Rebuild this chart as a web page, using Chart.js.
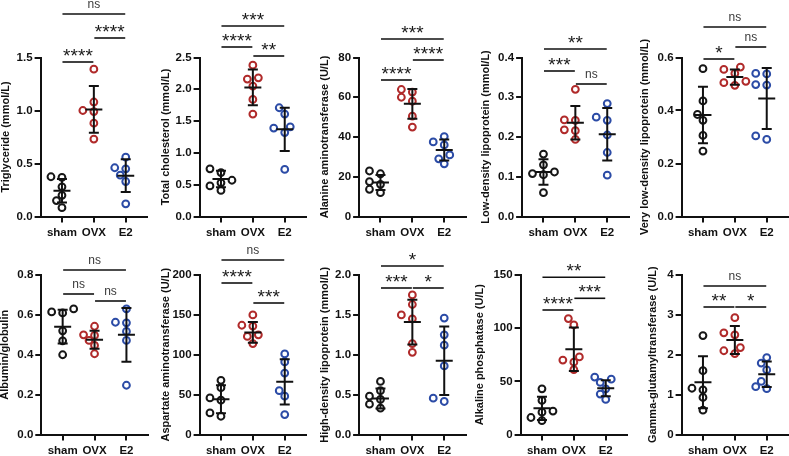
<!DOCTYPE html>
<html>
<head>
<meta charset="utf-8">
<script src="https://cdn.jsdelivr.net/npm/chart.js@4.4.1/dist/chart.umd.min.js"></script>
<style>
  html, body { margin: 0; padding: 0; background: #fff; }
  #wrap { position: relative; width: 789px; height: 456px; overflow: hidden; }
  #wrap canvas { position: absolute; top: 0; }
</style>
</head>
<body>
<div id="wrap"></div>
<script>
const groups = ["sham", "OVX", "E2"];
const pairs = [[0, 1], [1, 2], [0, 2]]; // sham-OVX, OVX-E2, sham-E2

// Triglyceride
const tgValues = [[0.375, 0.37, 0.28, 0.20, 0.15, 0.083], [1.39, 1.08, 1.00, 0.99, 0.88, 0.73], [0.56, 0.46, 0.45, 0.39, 0.33, 0.12]];
const tgMean = [0.243, 1.01, 0.385];
const tgSd = [0.11, 0.22, 0.155];
const tgSig = ["****", "****", "ns"];
const tgTicks = ["0.0", "0.5", "1.0", "1.5"];

// Total cholesterol
const tcValues = [[0.75, 0.69, 0.57, 0.53, 0.48, 0.41], [2.38, 2.18, 2.16, 2.05, 1.84, 1.61], [1.71, 1.61, 1.41, 1.39, 1.32, 0.74]];
const tcMean = [0.59, 2.03, 1.37];
const tcSd = [0.13, 0.28, 0.34];
const tcSig = ["****", "**", "***"];
const tcTicks = ["0.0", "0.5", "1.0", "1.5", "2.0", "2.5"];

// Alanine aminotransferase
const altValues = [[22.9, 21.5, 17.5, 16.2, 13.7, 12.0], [63.9, 62.6, 60.0, 58.0, 50.5, 45.0], [40.2, 37.5, 36.0, 31.0, 29.0, 26.5]];
const altMean = [17.1, 56.7, 33.5];
const altSd = [3.8, 7.5, 5.3];
const altSig = ["****", "****", "***"];
const altTicks = ["0", "20", "40", "60", "80"];

// Low-density lipoprotein
const ldlValues = [[0.157, 0.13, 0.112, 0.108, 0.105, 0.06], [0.32, 0.243, 0.242, 0.218, 0.216, 0.194], [0.284, 0.25, 0.242, 0.205, 0.161, 0.104]];
const ldlMean = [0.112, 0.236, 0.207];
const ldlSd = [0.032, 0.042, 0.066];
const ldlSig = ["***", "ns", "**"];
const ldlTicks = ["0.0", "0.1", "0.2", "0.3", "0.4"];

// Very low-density lipoprotein
const vldlValues = [[0.558, 0.436, 0.385, 0.363, 0.306, 0.247], [0.564, 0.555, 0.54, 0.51, 0.505, 0.495], [0.54, 0.538, 0.498, 0.496, 0.304, 0.291]];
const vldlMean = [0.383, 0.526, 0.445];
const vldlSd = [0.107, 0.029, 0.115];
const vldlSig = ["*", "ns", "ns"];
const vldlTicks = ["0.0", "0.2", "0.4", "0.6"];

// Albumin/globulin
const agValues = [[0.63, 0.615, 0.61, 0.52, 0.47, 0.40], [0.543, 0.50, 0.497, 0.472, 0.447, 0.405], [0.63, 0.563, 0.56, 0.517, 0.472, 0.247]];
const agMean = [0.541, 0.475, 0.50];
const agSd = [0.085, 0.045, 0.135];
const agSig = ["ns", "ns", "ns"];
const agTicks = ["0.0", "0.2", "0.4", "0.6", "0.8"];

// Aspartate aminotransferase
const astValues = [[67.9, 58.7, 45.8, 43.0, 27.0, 22.9], [150, 137, 136, 125, 123, 114], [101, 91, 77, 55, 48, 25]];
const astMean = [44.2, 128, 66];
const astSd = [17.5, 13, 28.5];
const astSig = ["****", "***", "ns"];
const astTicks = ["0", "50", "100", "150", "200"];

// High-density lipoprotein
const hdlValues = [[0.665, 0.55, 0.48, 0.44, 0.38, 0.33], [1.75, 1.63, 1.50, 1.45, 1.14, 1.03], [1.46, 1.25, 1.12, 0.86, 0.456, 0.414]];
const hdlMean = [0.452, 1.41, 0.925];
const hdlSd = [0.125, 0.28, 0.43];
const hdlSig = ["***", "*", "*"];
const hdlTicks = ["0.0", "0.5", "1.0", "1.5", "2.0"];

// Alkaline phosphatase
const alpValues = [[43, 32, 22, 21, 16, 13], [109, 103, 73, 70, 68, 61], [54, 52, 49, 43, 38, 33]];
const alpMean = [24.6, 80.2, 43.5];
const alpSd = [11, 20.5, 7.5];
const alpSig = ["****", "***", "**"];
const alpTicks = ["0", "50", "100", "150"];

// Gamma-glutamyltransferase
const ggtValues = [[2.48, 1.6, 1.16, 1.12, 0.93, 0.61], [2.93, 2.55, 2.5, 2.18, 2.1, 2.03], [1.93, 1.79, 1.62, 1.33, 1.2, 1.15]];
const ggtMean = [1.31, 2.37, 1.51];
const ggtSd = [0.65, 0.35, 0.32];
const ggtSig = ["**", "*", "ns"];
const ggtTicks = ["0", "1", "2", "3", "4"];

const groupColors = ["#161616", "#b02a2a", "#2b4ba6"];
const FONT = "'Liberation Sans', Arial, Helvetica, sans-serif";
const ROWS = [{ top: 57.5, bottom: 216.5 }, { top: 275, bottom: 434.5 }];
const PLOT_W = 106.5;
const X_MIN = -0.67, X_MAX = 2.67;

// layout: axis x, title distance from axis, bracket offsets from plot top (px)
const panels = [
  { title: "Triglyceride (mmol/L)", values: tgValues, mean: tgMean, sd: tgSd, sig: tgSig, ticks: tgTicks, row: 0, axisX: 40.5, gap: 35, brackets: [4.5, -19.5, -43.5] },
  { title: "Total cholesterol (mmol/L)", values: tcValues, mean: tcMean, sd: tcSd, sig: tcSig, ticks: tcTicks, row: 0, axisX: 200, gap: 34, brackets: [-10.5, -1.5, -31.5] },
  { title: "Alanine aminotransferase (U/L)", values: altValues, mean: altMean, sd: altSd, sig: altSig, ticks: altTicks, row: 0, axisX: 359.5, gap: 34.5, brackets: [22.5, 2.5, -18.5] },
  { title: "Low-density lipoprotein (mmol/L)", values: ldlValues, mean: ldlMean, sd: ldlSd, sig: ldlSig, ticks: ldlTicks, row: 0, axisX: 522, gap: 36.5, brackets: [13.5, 26.5, -8.5] },
  { title: "Very low-density lipoprotein (mmol/L)", values: vldlValues, mean: vldlMean, sd: vldlSd, sig: vldlSig, ticks: vldlTicks, row: 0, axisX: 682, gap: 37, brackets: [1.5, -10.5, -30.5] },
  { title: "Albumin/globulin", values: agValues, mean: agMean, sd: agSd, sig: agSig, ticks: agTicks, row: 1, axisX: 41.7, gap: 36.7, brackets: [19, 26, -5] },
  { title: "Aspartate aminotransferase (U/L)", values: astValues, mean: astMean, sd: astSd, sig: astSig, ticks: astTicks, row: 1, axisX: 200, gap: 34, brackets: [8, 28, -15] },
  { title: "High-density lipoprotein (mmol/L)", values: hdlValues, mean: hdlMean, sd: hdlSd, sig: hdlSig, ticks: hdlTicks, row: 1, axisX: 359.5, gap: 34.5, brackets: [13, 13, -9] },
  { title: "Alkaline phosphatase (U/L)", values: alpValues, mean: alpMean, sd: alpSd, sig: alpSig, ticks: alpTicks, row: 1, axisX: 521, gap: 41, brackets: [35, 23.3, 2.3] },
  { title: "Gamma-glutamyltransferase (U/L)", values: ggtValues, mean: ggtMean, sd: ggtSd, sig: ggtSig, ticks: ggtTicks, row: 1, axisX: 682, gap: 29, brackets: [32, 32, 11] }
];

// centre a text's ink vertically on cy
function inkText(ctx, text, cx, cy) {
  const m = ctx.measureText(text);
  const base = cy + (m.actualBoundingBoxAscent - m.actualBoundingBoxDescent) / 2;
  ctx.fillText(text, cx, base);
}

function drawSig(ctx, label, cx, lineY) {
  ctx.textAlign = "center";
  ctx.textBaseline = "alphabetic";
  if (label === "ns") {
    ctx.font = "12px " + FONT;
    ctx.fillStyle = "#3a3a3a";
    inkText(ctx, label, cx, lineY - 10);
  } else {
    ctx.font = "19px " + FONT;
    ctx.fillStyle = "#1a1a1a";
    const step = 7.5;
    const x0 = cx - (label.length - 1) * step / 2;
    for (let i = 0; i < label.length; i++) inkText(ctx, "*", x0 + i * step, lineY - 9.5);
  }
}

const errorBarPlugin = {
  id: "errorBars",
  afterDatasetsDraw(chart) {
    const p = chart.config.options.panel;
    const ctx = chart.ctx, xs = chart.scales.x, ys = chart.scales.y;
    ctx.save();
    ctx.strokeStyle = "#111";
    ctx.lineWidth = 2;
    p.mean.forEach((m, i) => {
      const cx = xs.getPixelForValue(i);
      const ym = ys.getPixelForValue(m);
      const yt = ys.getPixelForValue(m + p.sd[i]);
      const yb = ys.getPixelForValue(m - p.sd[i]);
      ctx.beginPath();
      ctx.moveTo(cx, yt); ctx.lineTo(cx, yb);
      ctx.moveTo(cx - 8.5, ym); ctx.lineTo(cx + 8.5, ym);
      ctx.moveTo(cx - 5, yt); ctx.lineTo(cx + 5, yt);
      ctx.moveTo(cx - 5, yb); ctx.lineTo(cx + 5, yb);
      ctx.stroke();
    });
    ctx.restore();
  },
  afterDraw(chart) {
    const p = chart.config.options.panel;
    const ctx = chart.ctx, xs = chart.scales.x, top = chart.chartArea.top;
    ctx.save();
    pairs.forEach(([a, b], k) => {
      const y = top + p.brackets[k];
      const x1 = xs.getPixelForValue(a) + 0.5;
      const x2 = xs.getPixelForValue(b) - 0.5;
      ctx.strokeStyle = "#111";
      ctx.lineWidth = 1.6;
      ctx.beginPath();
      ctx.moveTo(x1, y); ctx.lineTo(x2, y);
      ctx.stroke();
      drawSig(ctx, p.sig[k], (x1 + x2) / 2, y);
    });
    ctx.restore();
  }
};

// column-scatter spread (max two dot widths), done in pixels once the scales exist
const SLOTS = [0, -5.5, 5.5, -11, 11];
function spread(chart, values, idx) {
  const xs = chart.scales.x, ys = chart.scales.y;
  const unit = xs.getPixelForValue(1) - xs.getPixelForValue(0);
  const placed = [];
  const out = new Array(values.length);
  const order = values.map((v, k) => k).sort((a, b) => values[a] - values[b]);
  order.forEach(k => {
    const py = ys.getPixelForValue(values[k]);
    let best = 0, bestGap = -1;
    for (const off of SLOTS) {
      const gap = placed.reduce((g, q) => Math.min(g, Math.hypot(q[0] - off, q[1] - py)), Infinity);
      if (gap >= 7.2) { best = off; break; }
      if (gap > bestGap) { bestGap = gap; best = off; }
    }
    placed.push([best, py]);
    out[k] = { x: idx + best / unit, y: values[k] };
  });
  return out;
}

const wrap = document.getElementById("wrap");

panels.forEach(p => {
  const row = ROWS[p.row];
  const yWidth = p.gap + 6.6;
  const xHeight = 20;
  const width = Math.ceil(yWidth + PLOT_W + 10);
  const canvas = document.createElement("canvas");
  canvas.width = width;
  canvas.height = 456;
  canvas.style.left = (p.axisX - yWidth) + "px";
  canvas.style.width = width + "px";
  canvas.style.height = "456px";
  wrap.appendChild(canvas);

  const tickVals = p.ticks.map(Number);
  const yMax = tickVals[tickVals.length - 1];

  const chart = new Chart(canvas, {
    type: "scatter",
    data: {
      datasets: p.values.map((vals, i) => ({
        label: groups[i],
        data: vals.map(v => ({ x: i, y: v })),
        parsing: false,
        clip: false,
        pointStyle: "circle",
        pointRadius: 3.4,
        pointHoverRadius: 3.4,
        pointBorderWidth: 2,
        borderColor: groupColors[i],
        backgroundColor: "rgba(255,255,255,0)"
      }))
    },
    options: {
      panel: p,
      responsive: false,
      animation: false,
      events: [],
      layout: {
        padding: { top: row.top, bottom: 456 - row.bottom - xHeight, left: 0, right: width - yWidth - PLOT_W }
      },
      plugins: { legend: { display: false }, tooltip: { enabled: false } },
      scales: {
        x: {
          type: "linear",
          min: X_MIN,
          max: X_MAX,
          afterFit: s => { s.height = xHeight; },
          afterBuildTicks: s => { s.ticks = groups.map((g, i) => ({ value: i })); },
          ticks: {
            callback: (v, i) => groups[i],
            color: "#111",
            padding: 3,
            maxRotation: 0,
            autoSkip: false,
            font: { family: FONT, size: 11.5, weight: "bold" }
          },
          grid: { drawOnChartArea: false, drawTicks: true, tickLength: 6, color: "#111", lineWidth: 2 },
          border: { display: true, color: "#111", width: 2 }
        },
        y: {
          type: "linear",
          min: 0,
          max: yMax,
          afterFit: s => { s.width = yWidth; },
          afterBuildTicks: s => { s.ticks = tickVals.map(v => ({ value: v })); },
          ticks: {
            callback: (v, i) => p.ticks[i],
            color: "#111",
            padding: 2,
            autoSkip: false,
            font: { family: FONT, size: 11.5, weight: "bold" }
          },
          grid: { drawOnChartArea: false, drawTicks: true, tickLength: 6, color: "#111", lineWidth: 2 },
          border: { display: true, color: "#111", width: 2 },
          title: {
            display: true,
            text: p.title,
            color: "#111",
            padding: 0,
            font: { family: FONT, size: 11, weight: "bold" }
          }
        }
      }
    },
    plugins: [errorBarPlugin]
  });

  chart.data.datasets.forEach((ds, i) => { ds.data = spread(chart, p.values[i], i); });
  chart.update("none");
});
</script>
</body>
</html>
